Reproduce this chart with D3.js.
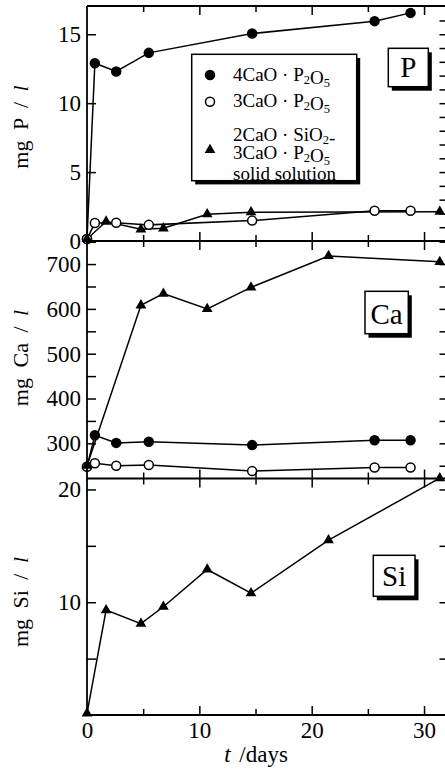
<!DOCTYPE html>
<html>
<head>
	<meta charset="UTF-8" />
	<title>P, Ca, Si dissolution</title>
	<script src="https://d3js.org/d3.v7.min.js"></script>
	<style>
		body { margin: 0; background: #fff; }
		text { font-family: "Liberation Serif", "Times New Roman", serif; fill: #000; }
	</style>
</head>
<body>
	<svg id="chart" width="445" height="772"></svg>

	<script type="text/javascript">

	//========================================================================
	// data
	//========================================================================
	var daysCirc = [0, 0.7, 2.6, 5.5, 14.7, 25.6, 28.8]
	var daysTri  = [0, 1.7, 4.8, 6.8, 10.7, 14.6, 21.5, 31.4]

	var p4CaO   = [0.15, 12.9, 12.3, 13.65, 15.05, 15.95, 16.55]
	var p3CaO   = [0.15, 1.3, 1.33, 1.17, 1.48, 2.2, 2.2]
	var pSolid  = [0.15, 1.41, 0.85, 0.92, 1.94, 2.09, null, 2.13]

	var ca4CaO  = [248, 318, 301, 303.5, 296, 307, 307]
	var ca3CaO  = [248, 255.5, 250, 251.5, 238, 246, 246]
	var caSolid = [250, null, 608, 634, 600, 648, 718, 705]

	var siSolid = [0.15, 9.3, 8.1, 9.6, 12.9, 10.8, 15.5, 21.0]

	var xLabels = [0, 10, 20, 30]
	var legendNames = ["4CaO · P2O5", "3CaO · P2O5", "2CaO · SiO2-|3CaO · P2O5|solid solution"]

	//========================================================================
	// scales
	//========================================================================
	var svg = d3.select("#chart")
	var left = 87, right = 446.5
	var x = d3.scaleLinear().domain([0, 32]).range([left, right])

	var panels = [
		{ name: "P",  title: "mg P", y: d3.scaleLinear().domain([0, 17.05]).range([241, 6]),
		  major: [0, 5, 10, 15], labels: [0, 5, 10, 15], minorR: d3.range(1, 17, 1),
		  series: [[daysCirc, p4CaO, "fill"], [daysCirc, p3CaO, "open"], [daysTri, pSolid, "tri"]],
		  box: { x: 388.3, y: 48.3, w: 40, h: 38.4 }, titleY: 127 },
		{ name: "Ca", title: "mg Ca", y: d3.scaleLinear().domain([221.5, 751.5]).range([478.5, 241]),
		  major: d3.range(250, 751, 50), labels: [300, 400, 500, 600, 700], minorR: d3.range(250, 751, 50),
		  series: [[daysCirc, ca4CaO, "fill"], [daysCirc, ca3CaO, "open"], [daysTri, caSolid, "tri"]],
		  box: { x: 365, y: 291.3, w: 43.3, h: 42.4 }, titleY: 358 },
		{ name: "Si", title: "mg Si", y: d3.scaleLinear().domain([0, 20.97]).range([715, 478.5]),
		  major: [5, 10, 15, 20], labels: [10, 20], minorR: [5, 10, 15, 20],
		  series: [[daysTri, siSolid, "tri"]],
		  box: { x: 373.3, y: 555.3, w: 41.7, h: 41 }, titleY: 602 }
	]

	var line = d3.line().x(d => x(d.t)).y(d => d.ys(d.v))
	var tri = d3.symbol().type(d3.symbolTriangle).size(50)

	//========================================================================
	// panels
	//========================================================================
	panels.forEach(p => {
		var g = svg.append("g")

		// left ticks + labels
		g.append("g")
			.attr("transform", "translate(" + left + ",0)")
			.call(d3.axisLeft(p.y).tickValues(p.major).tickSize(-9).tickPadding(6)
				.tickFormat(d => p.labels.indexOf(d) >= 0 ? d : ""))
			.call(a => a.select(".domain").remove())
			.call(a => a.selectAll("line").attr("stroke-width", 1.5))
			.call(a => a.selectAll("text").attr("font-size", 23).attr("font-family", "Liberation Serif"))

		// right ticks
		g.append("g")
			.attr("transform", "translate(" + right + ",0)")
			.call(d3.axisRight(p.y).tickValues(p.minorR).tickSize(-7).tickFormat(""))
			.call(a => a.select(".domain").remove())
			.call(a => a.selectAll("line").attr("stroke-width", 1.5))

		// y title
		var t = g.append("text")
			.attr("transform", "translate(28," + p.titleY + ") rotate(-90)")
			.attr("text-anchor", "middle")
			.attr("font-size", 22)
			.attr("word-spacing", 5)
		t.append("tspan").text(p.title + " / ")
		t.append("tspan").attr("font-style", "italic").text("l")

		// lines
		p.series.forEach(s => {
			var pts = s[0].map((t, i) => ({ t: t, v: s[1][i], ys: p.y })).filter(d => d.v != null)
			g.append("path")
				.attr("d", line(pts))
				.attr("fill", "none")
				.attr("stroke", "#000")
				.attr("stroke-width", 1.5)
		})
		// markers
		p.series.forEach(s => {
			var pts = s[0].map((t, i) => ({ t: t, v: s[1][i] })).filter(d => d.v != null)
			if (s[2] == "tri") {
				g.selectAll(null).data(pts).enter().append("path")
					.attr("d", tri)
					.attr("transform", d => "translate(" + x(d.t) + "," + p.y(d.v) + ")")
					.attr("fill", "#000")
			} else {
				g.selectAll(null).data(pts).enter().append("circle")
					.attr("cx", d => x(d.t))
					.attr("cy", d => p.y(d.v))
					.attr("r", 4.5)
					.attr("fill", s[2] == "fill" ? "#000" : "#fff")
					.attr("stroke", "#000")
					.attr("stroke-width", 1.5)
			}
		})

		// element box with shadow
		var b = p.box
		g.append("rect").attr("x", b.x + 3.5).attr("y", b.y + 4).attr("width", b.w).attr("height", b.h).attr("fill", "#000")
		g.append("rect").attr("x", b.x).attr("y", b.y).attr("width", b.w).attr("height", b.h)
			.attr("fill", "#fff").attr("stroke", "#000").attr("stroke-width", 1.5)
		g.append("text")
			.attr("x", b.x + b.w / 2).attr("y", b.y + b.h - 10)
			.attr("text-anchor", "middle")
			.attr("font-size", 29)
			.text(p.name)
	})

	//========================================================================
	// frame + x ticks
	//========================================================================
	var frame = svg.append("g")
	var hLines = [6, 241, 478.5, 715]
	var xTicks = d3.range(5, 32, 5)
	hLines.forEach((yy, i) => {
		frame.append("line").attr("x1", left).attr("x2", right).attr("y1", yy).attr("y2", yy)
			.attr("stroke", "#000").attr("stroke-width", 1.8)
		if (i < 3) {
			frame.append("g").attr("transform", "translate(0," + yy + ")")
				.call(d3.axisBottom(x).tickValues(xTicks).tickSizeInner(9).tickSizeOuter(0).tickFormat(""))
				.call(a => a.select(".domain").remove())
				.call(a => a.selectAll("line").attr("stroke-width", 1.5).attr("y2", d => d % 10 == 0 ? 9 : 6))
		}
		if (i > 0) {
			frame.append("g").attr("transform", "translate(0," + yy + ")")
				.call(d3.axisTop(x).tickValues(xTicks).tickSizeInner(9).tickSizeOuter(0).tickFormat(""))
				.call(a => a.select(".domain").remove())
				.call(a => a.selectAll("line").attr("stroke-width", 1.5).attr("y2", d => d % 10 == 0 ? -9 : -6))
		}
	})
	frame.append("line").attr("x1", left).attr("x2", left).attr("y1", 6).attr("y2", 715)
		.attr("stroke", "#000").attr("stroke-width", 1.8)
	frame.append("line").attr("x1", right).attr("x2", right).attr("y1", 6).attr("y2", 715)
		.attr("stroke", "#000").attr("stroke-width", 1.8)

	// x labels
	svg.append("g").attr("transform", "translate(0,715)")
		.call(d3.axisBottom(x).tickValues(xLabels).tickSize(0).tickPadding(7))
		.call(a => a.select(".domain").remove())
		.call(a => a.selectAll("text").attr("font-size", 23).attr("font-family", "Liberation Serif"))

	var xt = svg.append("text").attr("x", 256).attr("y", 762).attr("text-anchor", "middle")
		.attr("font-size", 23).attr("word-spacing", 3)
	xt.append("tspan").attr("font-style", "italic").text("t")
	xt.append("tspan").text(" /days")

	//========================================================================
	// legend
	//========================================================================
	var lg = svg.append("g")
	lg.append("rect").attr("x", 195.2).attr("y", 58).attr("width", 165).attr("height", 126.4).attr("fill", "#000")
	lg.append("rect").attr("x", 191.7).attr("y", 54.3).attr("width", 165).attr("height", 126.4)
		.attr("fill", "#fff").attr("stroke", "#000").attr("stroke-width", 1.5)

	// one text element per entry, lines as tspans, digits after a letter as subscripts
	function chem(sel, str, x0, y0) {
		var parts = str.match(/([A-Za-z]\d)|[^]/g)
		var buf = "", started = false
		function flush() {
			if (!buf) return
			var ts = sel.append("tspan").text(buf)
			if (!started) { ts.attr("x", x0).attr("y", y0); started = true }
			buf = ""
		}
		parts.forEach(c => {
			if (c.length == 2) {
				buf += c[0]
				flush()
				sel.append("tspan").attr("font-size", 12.5).attr("dy", 3).text(c[1])
				sel.append("tspan").attr("dy", -3).text("")
			} else buf += c
		})
		flush()
	}

	var rowsY = [[81], [107], [141, 158.5, 180]]
	var markY = [75, 101.7, 150]
	legendNames.forEach((n, i) => {
		var tx = lg.append("text").attr("font-size", 19)
		n.split("|").forEach((l, j) => chem(tx, l, 233, rowsY[i][j]))
		if (i == 2) {
			lg.append("path").attr("d", tri).attr("transform", "translate(210," + markY[i] + ")").attr("fill", "#000")
		} else {
			lg.append("circle").attr("cx", 210).attr("cy", markY[i]).attr("r", 4.5)
				.attr("fill", i == 0 ? "#000" : "#fff").attr("stroke", "#000").attr("stroke-width", 1.5)
		}
	})

	</script>
</body>
</html>
